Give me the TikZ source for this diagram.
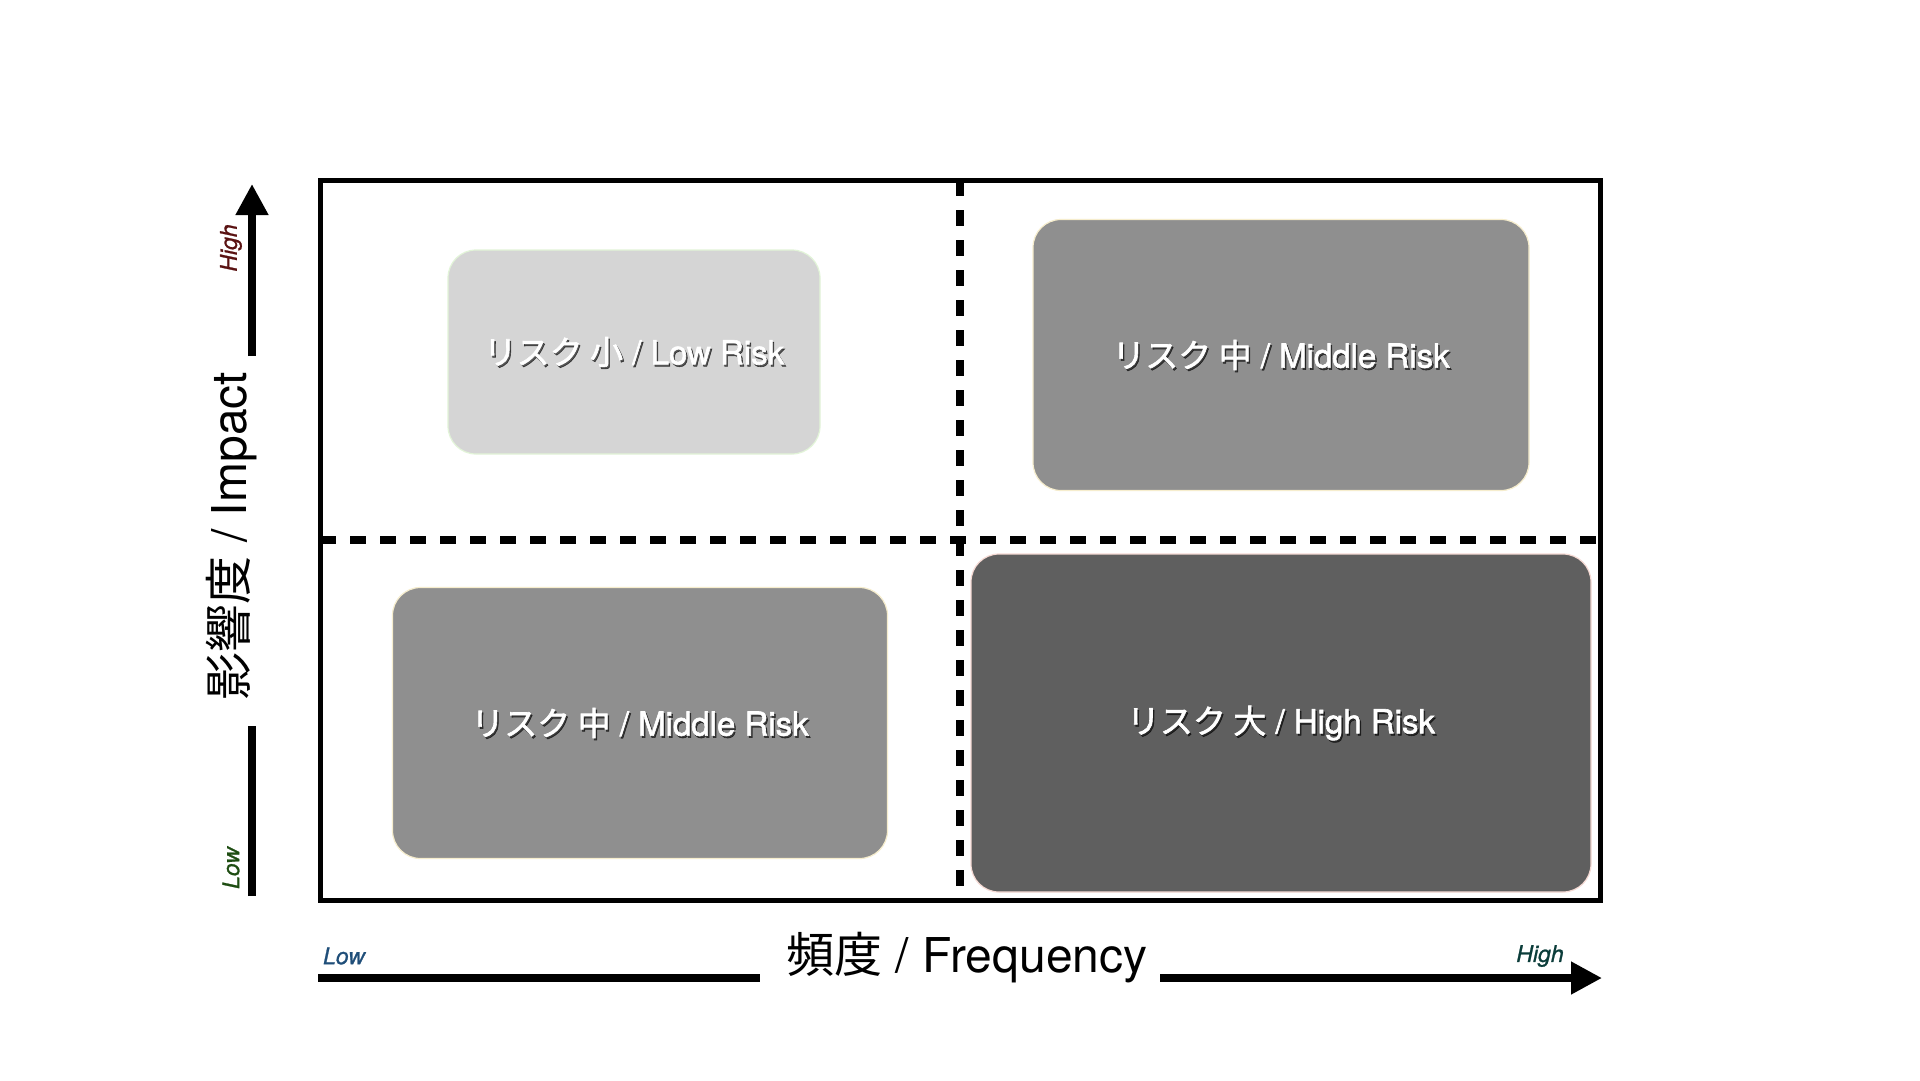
\documentclass[tikz,border=0pt]{standalone}
\usepackage{fontspec}
\setmainfont{TeX Gyre Heros}
\newfontfamily\jp{Noto Sans CJK JP}
\newfontfamily\boxlat[FakeBold=1.8]{TeX Gyre Heros}
\newfontfamily\boxjp[FakeBold=1.8]{Noto Sans CJK JP}
\newfontfamily\endfont[FakeBold=1]{TeX Gyre Heros Italic}
\usetikzlibrary{arrows.meta}
\definecolor{lowfill}{HTML}{D5D5D5}
\definecolor{midfill}{HTML}{8F8F8F}
\definecolor{highfill}{HTML}{5F5F5F}
\definecolor{lowedge}{HTML}{E2F4D8}
\definecolor{midedge}{HTML}{F6EDCD}
\definecolor{highedge}{HTML}{F6DAD4}
\definecolor{yhigh}{HTML}{5A1212}
\definecolor{ylow}{HTML}{1E4D12}
\definecolor{xlow}{HTML}{1F4E79}
\definecolor{xhigh}{HTML}{0B3D3A}
\tikzset{
  riskbox/.style={rounded corners=28pt, line width=1.2pt, inner sep=0pt},
  risktext/.style={text=white, font=\fontsize{33}{36}\selectfont\boxlat, inner sep=0pt},
  riskshadow/.style={text=black, opacity=0.6, font=\fontsize{33}{36}\selectfont\boxlat, inner sep=0pt},
  axislabel/.style={font=\fontsize{48}{52}\selectfont, inner sep=0pt},
  endlabel/.style={font=\fontsize{23}{26}\selectfont\endfont, inner sep=0pt},
  axisline/.style={line width=7.5pt},
  axisarrow/.style={line width=7.5pt, -{Triangle[length=31pt,width=31pt]}},
  divider/.style={line width=8pt, dash pattern=on 16pt off 14pt},
}
\begin{document}
\begin{tikzpicture}[x=1pt,y=-1pt]
\useasboundingbox (0,0) rectangle (1920,1080);
\fill[white] (0,0) rectangle (1920,1080);

% boxes
\node[riskbox, fill=lowfill, draw=lowedge, minimum width=372pt, minimum height=204pt] (tl) at (634,352) {};
\node[riskbox, fill=midfill, draw=midedge, minimum width=496pt, minimum height=271pt] (tr) at (1281,355) {};
\node[riskbox, fill=midfill, draw=midedge, minimum width=495pt, minimum height=271pt] (bl) at (640,723) {};
\node[riskbox, fill=highfill, draw=highedge, minimum width=620pt, minimum height=338pt] (br) at (1281,723) {};

% box texts (shadow + white)
\node[riskshadow, xshift=1.5pt, yshift=-2pt] (tls) at (tl.center) {{\boxjp リスク 小} / Low Risk};
\node[risktext] (tlt) at (tl.center) {{\boxjp リスク 小} / Low Risk};
\node[riskshadow, xshift=1.5pt, yshift=-2pt] (trs) at (tr.center) {{\boxjp リスク 中} / Middle Risk};
\node[risktext] (trt) at (tr.center) {{\boxjp リスク 中} / Middle Risk};
\node[riskshadow, xshift=1.5pt, yshift=-2pt] (bls) at (bl.center) {{\boxjp リスク 中} / Middle Risk};
\node[risktext] (blt) at (bl.center) {{\boxjp リスク 中} / Middle Risk};
\node[riskshadow, xshift=1.5pt, yshift=-2pt] (brs) at (br.center) {{\boxjp リスク 大} / High Risk};
\node[risktext] (brt) at (br.center) {{\boxjp リスク 大} / High Risk};

% dividers
\coordinate (vt) at (960,180);
\coordinate (vb) at (960,900);
\coordinate (hl) at (320,540);
\coordinate (hr) at (1600,540);
\draw[divider] (vt) -- (vb);
\draw[divider] (hl) -- (hr);

% frame
\coordinate (f1) at (320,180);
\coordinate (f2) at (1600,900);
\draw[line width=5pt] (f1) rectangle (f2);

% y axis
\coordinate (ya) at (252,896);
\coordinate (yb) at (252,726);
\coordinate (yc) at (252,356);
\coordinate (yd) at (252,184);
\draw[axisline] (ya) -- (yb);
\draw[axisarrow] (yc) -- (yd);
\node[axislabel, rotate=90] (ylab) at (232,536) {{\jp 影響度} / Impact};
\node[endlabel, rotate=90, text=yhigh] (yhi) at (231,248) {High};
\node[endlabel, rotate=90, text=ylow] (ylo) at (231,868) {Low};

% x axis
\coordinate (xa) at (318,978);
\coordinate (xb) at (760,978);
\coordinate (xc) at (1160,978);
\coordinate (xd) at (1602,978);
\draw[axisline] (xa) -- (xb);
\draw[axisarrow] (xc) -- (xd);
\node[axislabel] (xlab) at (967,958) {{\jp 頻度} / Frequency};
\node[endlabel, text=xlow] (xlo) at (344,956) {Low};
\node[endlabel, text=xhigh] (xhi) at (1540,956) {High};
\end{tikzpicture}
\end{document}
